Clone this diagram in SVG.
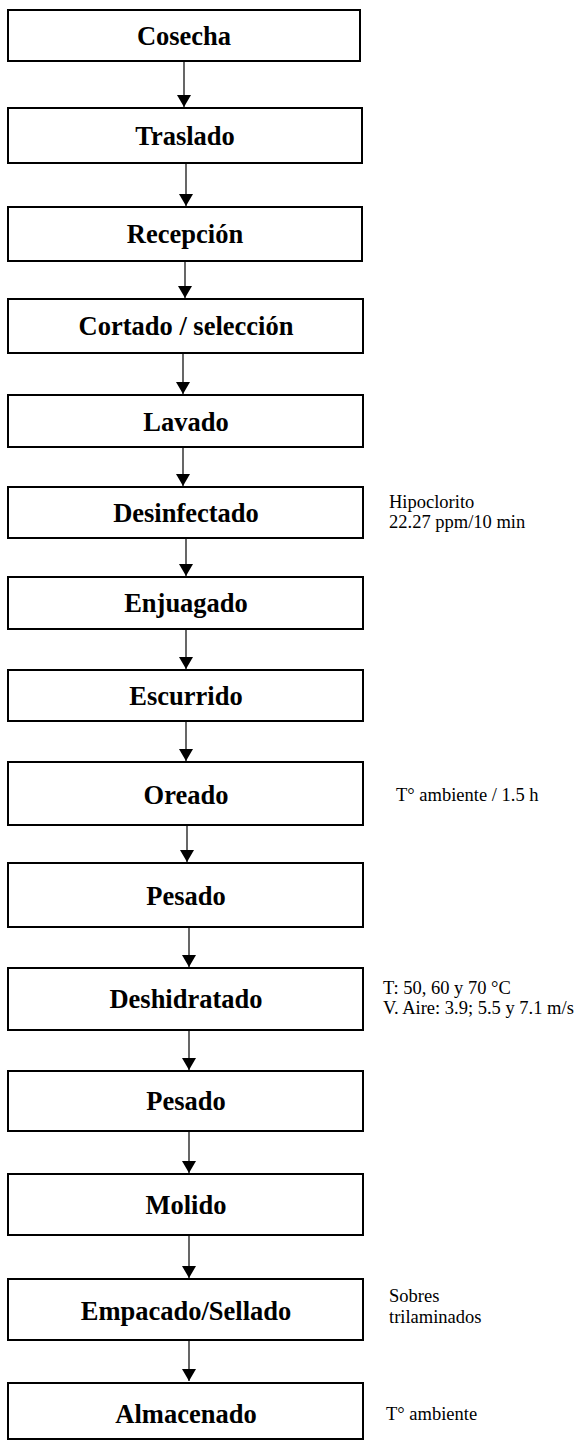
<svg xmlns="http://www.w3.org/2000/svg" width="576" height="1441" viewBox="0 0 576 1441">
<defs>
<style>
.box{fill:#fff;stroke:#000;stroke-width:2}
.lbl{font-family:"Liberation Serif","Times New Roman",serif;font-weight:bold;font-size:26.5px;text-anchor:middle;fill:#000}
.note{font-family:"Liberation Serif","Times New Roman",serif;font-size:18.5px;fill:#000}
.con{stroke:#000;stroke-width:1.2;fill:none;marker-end:url(#ah)}
</style>
<marker id="ah" viewBox="0 0 12 14" refX="12" refY="7" markerWidth="12" markerHeight="14" markerUnits="userSpaceOnUse" orient="auto">
<path d="M0,0 L12,7 L0,14 Z" fill="#000"/>
</marker>
</defs>
<rect width="576" height="1441" fill="#fff"/>
<g id="connectors">
<line class="con" x1="184" y1="62" x2="184" y2="107"/>
<line class="con" x1="186" y1="164" x2="186" y2="206"/>
<line class="con" x1="185" y1="262" x2="185" y2="298"/>
<line class="con" x1="183" y1="354" x2="183" y2="394"/>
<line class="con" x1="183" y1="448" x2="183" y2="486"/>
<line class="con" x1="186" y1="539" x2="186" y2="576"/>
<line class="con" x1="186" y1="630" x2="186" y2="669"/>
<line class="con" x1="186" y1="722" x2="186" y2="761"/>
<line class="con" x1="187" y1="826" x2="187" y2="862"/>
<line class="con" x1="189" y1="928" x2="189" y2="967"/>
<line class="con" x1="189" y1="1031" x2="189" y2="1070"/>
<line class="con" x1="189" y1="1132" x2="189" y2="1173"/>
<line class="con" x1="189" y1="1236" x2="189" y2="1278"/>
<line class="con" x1="189" y1="1341" x2="189" y2="1381"/>
</g>
<g id="n1"><rect class="box" x="8" y="10" width="352" height="51"/><text class="lbl" x="184" y="45">Cosecha</text></g>
<g id="n2"><rect class="box" x="8" y="108" width="354" height="55"/><text class="lbl" x="185" y="145">Traslado</text></g>
<g id="n3"><rect class="box" x="8" y="207" width="354" height="54"/><text class="lbl" x="185" y="243">Recepción</text></g>
<g id="n4"><rect class="box" x="8" y="299" width="355" height="54"/><text class="lbl" x="186" y="335">Cortado / selección</text></g>
<g id="n5"><rect class="box" x="8" y="395" width="355" height="52"/><text class="lbl" x="186" y="431">Lavado</text></g>
<g id="n6"><rect class="box" x="8" y="487" width="355" height="51"/><text class="lbl" x="186" y="522">Desinfectado</text>
<text class="note" x="389" y="508">Hipoclorito</text><text class="note" x="389" y="528">22.27 ppm/10 min</text></g>
<g id="n7"><rect class="box" x="8" y="577" width="355" height="52"/><text class="lbl" x="186" y="612">Enjuagado</text></g>
<g id="n8"><rect class="box" x="8" y="670" width="355" height="51"/><text class="lbl" x="186" y="705">Escurrido</text></g>
<g id="n9"><rect class="box" x="8" y="762" width="355" height="63"/><text class="lbl" x="186" y="804">Oreado</text>
<text class="note" x="396" y="801">T° ambiente / 1.5 h</text></g>
<g id="n10"><rect class="box" x="8" y="863" width="355" height="64"/><text class="lbl" x="186" y="905">Pesado</text></g>
<g id="n11"><rect class="box" x="8" y="968" width="355" height="62"/><text class="lbl" x="186" y="1008">Deshidratado</text>
<text class="note" x="383" y="994">T: 50, 60 y 70 °C</text><text class="note" x="383" y="1014">V. Aire: 3.9; 5.5 y 7.1 m/s</text></g>
<g id="n12"><rect class="box" x="8" y="1071" width="355" height="60"/><text class="lbl" x="186" y="1110">Pesado</text></g>
<g id="n13"><rect class="box" x="8" y="1174" width="355" height="61"/><text class="lbl" x="186" y="1214">Molido</text></g>
<g id="n14"><rect class="box" x="8" y="1279" width="355" height="61"/><text class="lbl" x="186" y="1320">Empacado/Sellado</text>
<text class="note" x="389" y="1302">Sobres</text><text class="note" x="389" y="1323">trilaminados</text></g>
<g id="n15"><rect class="box" x="8" y="1383" width="355" height="56"/><text class="lbl" x="186" y="1423">Almacenado</text>
<text class="note" x="386" y="1420">T° ambiente</text></g>
</svg>
